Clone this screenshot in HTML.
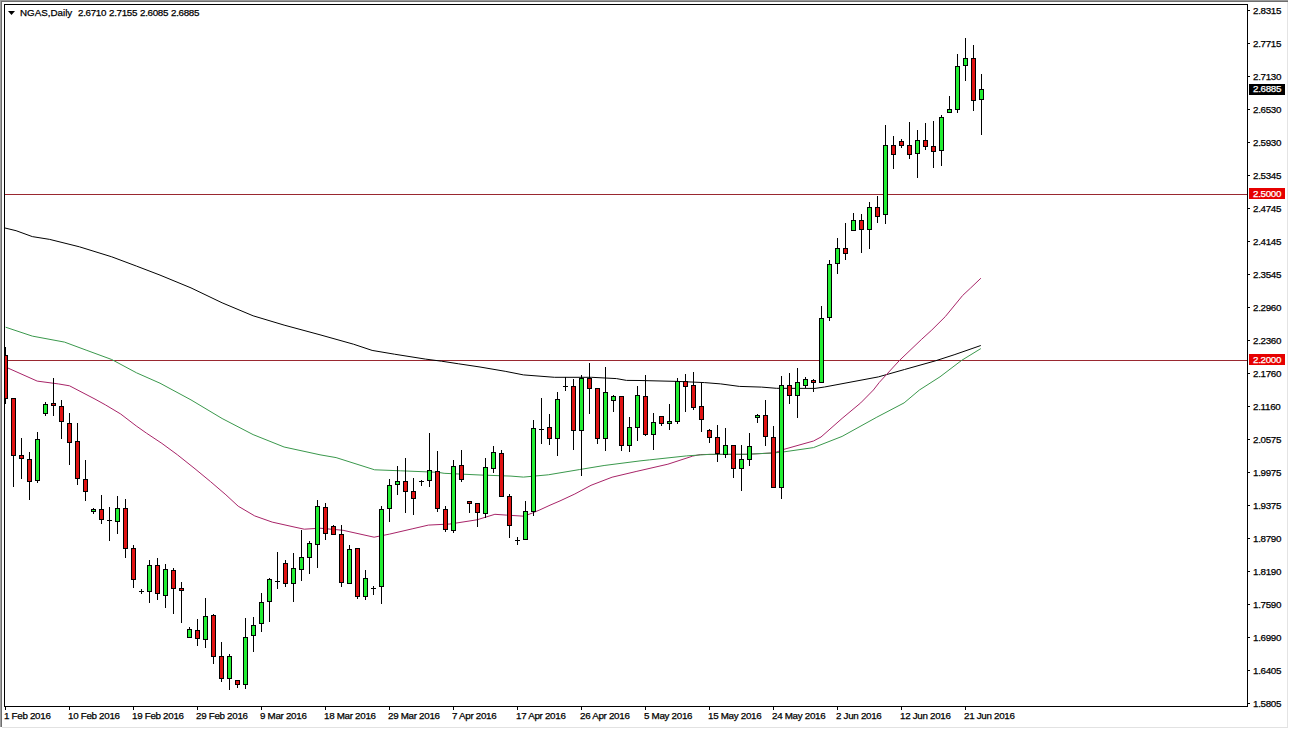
<!DOCTYPE html><html><head><meta charset="utf-8"><style>
html,body{margin:0;padding:0;background:#fff;width:1289px;height:729px;overflow:hidden;position:relative}
.t{position:absolute;font-family:"Liberation Sans",sans-serif;font-size:9.8px;line-height:10px;letter-spacing:-0.3px;-webkit-text-stroke:0.25px #000;color:#000;white-space:pre}
.w{color:#fff;-webkit-text-stroke:0.25px #fff}
</style></head><body>
<svg width="1289" height="729" viewBox="0 0 1289 729" style="position:absolute;left:0;top:0"><defs><clipPath id="ca"><rect x="5" y="5" width="1242" height="701"/></clipPath></defs><g shape-rendering="crispEdges"><rect x="0" y="0" width="1288" height="1" fill="#9a9a9a"/><rect x="0" y="1" width="1288" height="1" fill="#6e6e6e"/><rect x="0" y="0" width="1" height="727" fill="#a0a0a0"/><rect x="1" y="1" width="1" height="726" fill="#6e6e6e"/><rect x="1287" y="2" width="1" height="725" fill="#e4e4e4"/><rect x="2" y="727" width="1286" height="1" fill="#e2e2e2"/></g><g clip-path="url(#ca)"><g shape-rendering="crispEdges"><rect x="5" y="194" width="1242" height="1" fill="#9a2830"/><rect x="5" y="360" width="1242" height="1" fill="#9a2830"/></g><polyline points="5.0,228.0 16.1,230.7 32.3,236.6 49.7,239.4 79.4,246.8 111.7,256.8 136.5,266.1 160.0,275.1 191.0,287.9 222.1,302.8 253.1,315.8 284.1,325.1 320.0,334.8 353.5,344.2 372.1,350.4 394.5,354.2 425.5,359.1 441.6,361.2 458.6,363.8 480.0,367.0 505.2,371.3 523.4,374.9 554.5,377.3 591.7,377.3 616.5,378.6 626.5,380.4 640.0,380.5 677.2,381.4 704.5,382.6 720.7,383.9 739.3,386.4 761.6,387.1 776.5,388.3 815.0,388.4 824.5,387.0 840.0,384.1 878.4,376.9 904.5,369.5 935.5,360.8 954.1,354.8 980.8,345.5" fill="none" stroke="#000000" stroke-width="1"/><polyline points="5.0,367.0 7.4,367.8 37.2,381.1 58.3,383.9 69.5,385.8 95.0,399.1 105.3,404.8 120.7,414.0 136.2,425.9 146.4,433.1 161.9,443.4 177.3,454.7 195.0,468.8 210.4,481.5 225.9,494.8 238.2,506.2 254.7,515.9 272.2,522.1 295.0,527.2 304.3,529.2 319.8,528.2 343.1,530.3 374.1,537.2 389.6,534.1 412.9,528.7 428.4,525.1 450.0,524.0 477.0,519.8 494.9,514.3 506.3,515.1 523.9,516.2 532.7,512.9 540.0,509.8 550.0,505.2 560.0,500.9 574.8,494.0 591.0,485.3 612.1,477.2 636.9,471.3 667.9,464.2 692.7,456.1 700.4,454.5 746.0,454.3 774.3,452.9 783.7,449.4 813.5,441.0 821.0,437.0 842.1,418.4 860.7,402.9 873.4,390.0 879.3,382.4 899.5,360.4 921.3,339.6 931.8,330.0 945.3,316.6 962.6,295.5 970.3,288.3 980.9,278.2" fill="none" stroke="#a82468" stroke-width="1"/><polyline points="5.6,327.2 32.3,336.1 64.5,342.1 86.9,350.4 111.7,359.5 136.5,372.8 160.0,383.2 191.0,399.9 222.1,418.5 253.1,434.6 284.1,447.0 320.0,454.8 336.1,457.6 374.6,469.8 400.7,470.8 437.9,472.3 444.1,473.3 480.0,475.0 511.0,476.1 523.4,477.1 548.3,474.8 579.3,469.6 604.1,465.5 640.0,460.9 649.3,459.9 686.5,455.9 710.0,454.3 746.0,454.3 774.3,452.9 783.7,451.9 813.5,447.6 842.1,436.4 876.8,417.2 904.1,402.9 919.4,390.0 940.0,376.8 961.6,360.4 980.8,348.6" fill="none" stroke="#3a984c" stroke-width="1"/><g shape-rendering="crispEdges" fill="#000"><rect x="5" y="347" width="1" height="57"/><rect x="13" y="398" width="1" height="89"/><rect x="21" y="438" width="1" height="41"/><rect x="29" y="452" width="1" height="48"/><rect x="37" y="432" width="1" height="51"/><rect x="45" y="402" width="1" height="14"/><rect x="53" y="378" width="1" height="38"/><rect x="61" y="400" width="1" height="39"/><rect x="69" y="413" width="1" height="52"/><rect x="77" y="423" width="1" height="62"/><rect x="85" y="460" width="1" height="41"/><rect x="93" y="508" width="1" height="6"/><rect x="101" y="495" width="1" height="29"/><rect x="109" y="507" width="1" height="34"/><rect x="117" y="496" width="1" height="38"/><rect x="125" y="499" width="1" height="59"/><rect x="133" y="545" width="1" height="43"/><rect x="141" y="589" width="1" height="5"/><rect x="149" y="560" width="1" height="43"/><rect x="157" y="558" width="1" height="42"/><rect x="165" y="564" width="1" height="44"/><rect x="173" y="568" width="1" height="46"/><rect x="181" y="582" width="1" height="41"/><rect x="189" y="627" width="1" height="11"/><rect x="197" y="619" width="1" height="27"/><rect x="205" y="598" width="1" height="50"/><rect x="213" y="614" width="1" height="50"/><rect x="221" y="642" width="1" height="40"/><rect x="229" y="654" width="1" height="36"/><rect x="237" y="680" width="1" height="8"/><rect x="245" y="618" width="1" height="71"/><rect x="253" y="617" width="1" height="35"/><rect x="261" y="593" width="1" height="39"/><rect x="269" y="578" width="1" height="44"/><rect x="277" y="552" width="1" height="37"/><rect x="285" y="560" width="1" height="27"/><rect x="293" y="553" width="1" height="49"/><rect x="301" y="530" width="1" height="51"/><rect x="309" y="541" width="1" height="33"/><rect x="317" y="500" width="1" height="68"/><rect x="325" y="503" width="1" height="37"/><rect x="333" y="525" width="1" height="10"/><rect x="341" y="525" width="1" height="62"/><rect x="349" y="545" width="1" height="39"/><rect x="357" y="548" width="1" height="51"/><rect x="365" y="570" width="1" height="30"/><rect x="373" y="586" width="1" height="9"/><rect x="381" y="506" width="1" height="98"/><rect x="389" y="479" width="1" height="43"/><rect x="397" y="466" width="1" height="29"/><rect x="405" y="458" width="1" height="55"/><rect x="413" y="478" width="1" height="37"/><rect x="421" y="480" width="1" height="6"/><rect x="429" y="433" width="1" height="54"/><rect x="437" y="451" width="1" height="61"/><rect x="445" y="506" width="1" height="26"/><rect x="453" y="460" width="1" height="73"/><rect x="461" y="450" width="1" height="32"/><rect x="469" y="502" width="1" height="11"/><rect x="477" y="503" width="1" height="24"/><rect x="485" y="458" width="1" height="60"/><rect x="493" y="446" width="1" height="27"/><rect x="501" y="450" width="1" height="47"/><rect x="509" y="494" width="1" height="44"/><rect x="517" y="537" width="1" height="8"/><rect x="525" y="501" width="1" height="39"/><rect x="533" y="420" width="1" height="96"/><rect x="541" y="398" width="1" height="46"/><rect x="549" y="414" width="1" height="31"/><rect x="557" y="392" width="1" height="64"/><rect x="565" y="377" width="1" height="14"/><rect x="573" y="379" width="1" height="71"/><rect x="581" y="375" width="1" height="101"/><rect x="589" y="363" width="1" height="51"/><rect x="597" y="388" width="1" height="56"/><rect x="605" y="367" width="1" height="84"/><rect x="613" y="395" width="1" height="17"/><rect x="621" y="396" width="1" height="55"/><rect x="629" y="417" width="1" height="35"/><rect x="637" y="386" width="1" height="55"/><rect x="645" y="375" width="1" height="61"/><rect x="653" y="413" width="1" height="37"/><rect x="661" y="416" width="1" height="10"/><rect x="669" y="404" width="1" height="26"/><rect x="677" y="378" width="1" height="46"/><rect x="685" y="374" width="1" height="38"/><rect x="693" y="372" width="1" height="38"/><rect x="701" y="383" width="1" height="49"/><rect x="709" y="429" width="1" height="14"/><rect x="717" y="425" width="1" height="37"/><rect x="725" y="428" width="1" height="30"/><rect x="733" y="445" width="1" height="33"/><rect x="741" y="445" width="1" height="46"/><rect x="749" y="433" width="1" height="33"/><rect x="757" y="414" width="1" height="9"/><rect x="765" y="400" width="1" height="46"/><rect x="773" y="426" width="1" height="62"/><rect x="781" y="376" width="1" height="123"/><rect x="789" y="373" width="1" height="31"/><rect x="797" y="368" width="1" height="50"/><rect x="805" y="377" width="1" height="11"/><rect x="813" y="379" width="1" height="13"/><rect x="821" y="306" width="1" height="77"/><rect x="829" y="260" width="1" height="61"/><rect x="837" y="238" width="1" height="36"/><rect x="845" y="223" width="1" height="37"/><rect x="853" y="213" width="1" height="18"/><rect x="861" y="214" width="1" height="39"/><rect x="869" y="202" width="1" height="47"/><rect x="877" y="196" width="1" height="27"/><rect x="885" y="125" width="1" height="99"/><rect x="893" y="136" width="1" height="33"/><rect x="901" y="139" width="1" height="9"/><rect x="909" y="122" width="1" height="37"/><rect x="917" y="130" width="1" height="48"/><rect x="925" y="123" width="1" height="27"/><rect x="933" y="121" width="1" height="47"/><rect x="941" y="115" width="1" height="51"/><rect x="949" y="96" width="1" height="17"/><rect x="957" y="54" width="1" height="59"/><rect x="965" y="38" width="1" height="43"/><rect x="973" y="45" width="1" height="66"/><rect x="981" y="74" width="1" height="61"/><rect x="3" y="355" width="5" height="44" fill="#000"/><rect x="4" y="356" width="3" height="42" fill="#e01212"/><rect x="11" y="398" width="5" height="58" fill="#000"/><rect x="12" y="399" width="3" height="56" fill="#e01212"/><rect x="19" y="455" width="5" height="4" fill="#000"/><rect x="20" y="456" width="3" height="2" fill="#e01212"/><rect x="27" y="459" width="5" height="23" fill="#000"/><rect x="28" y="460" width="3" height="21" fill="#e01212"/><rect x="35" y="439" width="5" height="42" fill="#000"/><rect x="36" y="440" width="3" height="40" fill="#22ee33"/><rect x="43" y="404" width="5" height="10" fill="#000"/><rect x="44" y="405" width="3" height="8" fill="#22ee33"/><rect x="51" y="403" width="5" height="3" fill="#000"/><rect x="52" y="404" width="3" height="1" fill="#e01212"/><rect x="59" y="406" width="5" height="16" fill="#000"/><rect x="60" y="407" width="3" height="14" fill="#e01212"/><rect x="67" y="423" width="5" height="20" fill="#000"/><rect x="68" y="424" width="3" height="18" fill="#e01212"/><rect x="75" y="441" width="5" height="38" fill="#000"/><rect x="76" y="442" width="3" height="36" fill="#e01212"/><rect x="83" y="479" width="5" height="13" fill="#000"/><rect x="84" y="480" width="3" height="11" fill="#e01212"/><rect x="91" y="509" width="5" height="3" fill="#000"/><rect x="92" y="510" width="3" height="1" fill="#22ee33"/><rect x="99" y="509" width="5" height="11" fill="#000"/><rect x="100" y="510" width="3" height="9" fill="#e01212"/><rect x="107" y="520" width="5" height="1" fill="#000"/><rect x="115" y="508" width="5" height="14" fill="#000"/><rect x="116" y="509" width="3" height="12" fill="#22ee33"/><rect x="123" y="508" width="5" height="41" fill="#000"/><rect x="124" y="509" width="3" height="39" fill="#e01212"/><rect x="131" y="548" width="5" height="32" fill="#000"/><rect x="132" y="549" width="3" height="30" fill="#e01212"/><rect x="139" y="591" width="5" height="1" fill="#000"/><rect x="147" y="565" width="5" height="27" fill="#000"/><rect x="148" y="566" width="3" height="25" fill="#22ee33"/><rect x="155" y="565" width="5" height="29" fill="#000"/><rect x="156" y="566" width="3" height="27" fill="#e01212"/><rect x="163" y="569" width="5" height="27" fill="#000"/><rect x="164" y="570" width="3" height="25" fill="#22ee33"/><rect x="171" y="570" width="5" height="19" fill="#000"/><rect x="172" y="571" width="3" height="17" fill="#e01212"/><rect x="179" y="588" width="5" height="3" fill="#000"/><rect x="180" y="589" width="3" height="1" fill="#e01212"/><rect x="187" y="629" width="5" height="9" fill="#000"/><rect x="188" y="630" width="3" height="7" fill="#22ee33"/><rect x="195" y="630" width="5" height="9" fill="#000"/><rect x="196" y="631" width="3" height="7" fill="#e01212"/><rect x="203" y="616" width="5" height="24" fill="#000"/><rect x="204" y="617" width="3" height="22" fill="#22ee33"/><rect x="211" y="615" width="5" height="42" fill="#000"/><rect x="212" y="616" width="3" height="40" fill="#e01212"/><rect x="219" y="656" width="5" height="23" fill="#000"/><rect x="220" y="657" width="3" height="21" fill="#e01212"/><rect x="227" y="656" width="5" height="23" fill="#000"/><rect x="228" y="657" width="3" height="21" fill="#22ee33"/><rect x="235" y="680" width="5" height="5" fill="#000"/><rect x="236" y="681" width="3" height="3" fill="#e01212"/><rect x="243" y="637" width="5" height="48" fill="#000"/><rect x="244" y="638" width="3" height="46" fill="#22ee33"/><rect x="251" y="625" width="5" height="11" fill="#000"/><rect x="252" y="626" width="3" height="9" fill="#22ee33"/><rect x="259" y="602" width="5" height="22" fill="#000"/><rect x="260" y="603" width="3" height="20" fill="#22ee33"/><rect x="267" y="579" width="5" height="23" fill="#000"/><rect x="268" y="580" width="3" height="21" fill="#22ee33"/><rect x="275" y="581" width="5" height="1" fill="#000"/><rect x="283" y="563" width="5" height="21" fill="#000"/><rect x="284" y="564" width="3" height="19" fill="#e01212"/><rect x="291" y="568" width="5" height="16" fill="#000"/><rect x="292" y="569" width="3" height="14" fill="#22ee33"/><rect x="299" y="557" width="5" height="13" fill="#000"/><rect x="300" y="558" width="3" height="11" fill="#22ee33"/><rect x="307" y="543" width="5" height="15" fill="#000"/><rect x="308" y="544" width="3" height="13" fill="#22ee33"/><rect x="315" y="506" width="5" height="39" fill="#000"/><rect x="316" y="507" width="3" height="37" fill="#22ee33"/><rect x="323" y="507" width="5" height="27" fill="#000"/><rect x="324" y="508" width="3" height="25" fill="#e01212"/><rect x="331" y="526" width="5" height="9" fill="#000"/><rect x="332" y="527" width="3" height="7" fill="#e01212"/><rect x="339" y="534" width="5" height="49" fill="#000"/><rect x="340" y="535" width="3" height="47" fill="#e01212"/><rect x="347" y="549" width="5" height="35" fill="#000"/><rect x="348" y="550" width="3" height="33" fill="#22ee33"/><rect x="355" y="548" width="5" height="49" fill="#000"/><rect x="356" y="549" width="3" height="47" fill="#e01212"/><rect x="363" y="578" width="5" height="19" fill="#000"/><rect x="364" y="579" width="3" height="17" fill="#22ee33"/><rect x="371" y="588" width="5" height="1" fill="#000"/><rect x="379" y="509" width="5" height="78" fill="#000"/><rect x="380" y="510" width="3" height="76" fill="#22ee33"/><rect x="387" y="485" width="5" height="24" fill="#000"/><rect x="388" y="486" width="3" height="22" fill="#22ee33"/><rect x="395" y="481" width="5" height="4" fill="#000"/><rect x="396" y="482" width="3" height="2" fill="#22ee33"/><rect x="403" y="481" width="5" height="11" fill="#000"/><rect x="404" y="482" width="3" height="9" fill="#e01212"/><rect x="411" y="491" width="5" height="8" fill="#000"/><rect x="412" y="492" width="3" height="6" fill="#e01212"/><rect x="419" y="481" width="5" height="1" fill="#000"/><rect x="427" y="470" width="5" height="11" fill="#000"/><rect x="428" y="471" width="3" height="9" fill="#22ee33"/><rect x="435" y="471" width="5" height="38" fill="#000"/><rect x="436" y="472" width="3" height="36" fill="#e01212"/><rect x="443" y="509" width="5" height="21" fill="#000"/><rect x="444" y="510" width="3" height="19" fill="#e01212"/><rect x="451" y="466" width="5" height="65" fill="#000"/><rect x="452" y="467" width="3" height="63" fill="#22ee33"/><rect x="459" y="465" width="5" height="15" fill="#000"/><rect x="460" y="466" width="3" height="13" fill="#e01212"/><rect x="467" y="501" width="5" height="3" fill="#000"/><rect x="468" y="502" width="3" height="1" fill="#e01212"/><rect x="475" y="503" width="5" height="10" fill="#000"/><rect x="476" y="504" width="3" height="8" fill="#e01212"/><rect x="483" y="467" width="5" height="47" fill="#000"/><rect x="484" y="468" width="3" height="45" fill="#22ee33"/><rect x="491" y="452" width="5" height="17" fill="#000"/><rect x="492" y="453" width="3" height="15" fill="#22ee33"/><rect x="499" y="453" width="5" height="44" fill="#000"/><rect x="500" y="454" width="3" height="42" fill="#e01212"/><rect x="507" y="496" width="5" height="30" fill="#000"/><rect x="508" y="497" width="3" height="28" fill="#e01212"/><rect x="515" y="540" width="5" height="1" fill="#000"/><rect x="523" y="511" width="5" height="29" fill="#000"/><rect x="524" y="512" width="3" height="27" fill="#22ee33"/><rect x="531" y="428" width="5" height="84" fill="#000"/><rect x="532" y="429" width="3" height="82" fill="#22ee33"/><rect x="539" y="429" width="5" height="1" fill="#000"/><rect x="547" y="427" width="5" height="12" fill="#000"/><rect x="548" y="428" width="3" height="10" fill="#e01212"/><rect x="555" y="399" width="5" height="40" fill="#000"/><rect x="556" y="400" width="3" height="38" fill="#22ee33"/><rect x="563" y="386" width="5" height="1" fill="#000"/><rect x="571" y="386" width="5" height="45" fill="#000"/><rect x="572" y="387" width="3" height="43" fill="#e01212"/><rect x="579" y="378" width="5" height="53" fill="#000"/><rect x="580" y="379" width="3" height="51" fill="#22ee33"/><rect x="587" y="378" width="5" height="11" fill="#000"/><rect x="588" y="379" width="3" height="9" fill="#e01212"/><rect x="595" y="388" width="5" height="51" fill="#000"/><rect x="596" y="389" width="3" height="49" fill="#e01212"/><rect x="603" y="392" width="5" height="47" fill="#000"/><rect x="604" y="393" width="3" height="45" fill="#22ee33"/><rect x="611" y="396" width="5" height="5" fill="#000"/><rect x="612" y="397" width="3" height="3" fill="#22ee33"/><rect x="619" y="396" width="5" height="50" fill="#000"/><rect x="620" y="397" width="3" height="48" fill="#e01212"/><rect x="627" y="427" width="5" height="19" fill="#000"/><rect x="628" y="428" width="3" height="17" fill="#22ee33"/><rect x="635" y="395" width="5" height="33" fill="#000"/><rect x="636" y="396" width="3" height="31" fill="#22ee33"/><rect x="643" y="396" width="5" height="39" fill="#000"/><rect x="644" y="397" width="3" height="37" fill="#e01212"/><rect x="651" y="422" width="5" height="13" fill="#000"/><rect x="652" y="423" width="3" height="11" fill="#22ee33"/><rect x="659" y="416" width="5" height="8" fill="#000"/><rect x="660" y="417" width="3" height="6" fill="#e01212"/><rect x="667" y="421" width="5" height="3" fill="#000"/><rect x="668" y="422" width="3" height="1" fill="#22ee33"/><rect x="675" y="381" width="5" height="41" fill="#000"/><rect x="676" y="382" width="3" height="39" fill="#22ee33"/><rect x="683" y="381" width="5" height="6" fill="#000"/><rect x="684" y="382" width="3" height="4" fill="#e01212"/><rect x="691" y="385" width="5" height="23" fill="#000"/><rect x="692" y="386" width="3" height="21" fill="#e01212"/><rect x="699" y="406" width="5" height="14" fill="#000"/><rect x="700" y="407" width="3" height="12" fill="#e01212"/><rect x="707" y="430" width="5" height="8" fill="#000"/><rect x="708" y="431" width="3" height="6" fill="#e01212"/><rect x="715" y="437" width="5" height="17" fill="#000"/><rect x="716" y="438" width="3" height="15" fill="#e01212"/><rect x="723" y="445" width="5" height="10" fill="#000"/><rect x="724" y="446" width="3" height="8" fill="#22ee33"/><rect x="731" y="445" width="5" height="24" fill="#000"/><rect x="732" y="446" width="3" height="22" fill="#e01212"/><rect x="739" y="459" width="5" height="10" fill="#000"/><rect x="740" y="460" width="3" height="8" fill="#22ee33"/><rect x="747" y="446" width="5" height="14" fill="#000"/><rect x="748" y="447" width="3" height="12" fill="#22ee33"/><rect x="755" y="415" width="5" height="3" fill="#000"/><rect x="756" y="416" width="3" height="1" fill="#22ee33"/><rect x="763" y="415" width="5" height="22" fill="#000"/><rect x="764" y="416" width="3" height="20" fill="#e01212"/><rect x="771" y="437" width="5" height="51" fill="#000"/><rect x="772" y="438" width="3" height="49" fill="#e01212"/><rect x="779" y="385" width="5" height="103" fill="#000"/><rect x="780" y="386" width="3" height="101" fill="#22ee33"/><rect x="787" y="385" width="5" height="11" fill="#000"/><rect x="788" y="386" width="3" height="9" fill="#e01212"/><rect x="795" y="382" width="5" height="14" fill="#000"/><rect x="796" y="383" width="3" height="12" fill="#22ee33"/><rect x="803" y="379" width="5" height="7" fill="#000"/><rect x="804" y="380" width="3" height="5" fill="#22ee33"/><rect x="811" y="380" width="5" height="3" fill="#000"/><rect x="812" y="381" width="3" height="1" fill="#e01212"/><rect x="819" y="318" width="5" height="65" fill="#000"/><rect x="820" y="319" width="3" height="63" fill="#22ee33"/><rect x="827" y="264" width="5" height="54" fill="#000"/><rect x="828" y="265" width="3" height="52" fill="#22ee33"/><rect x="835" y="248" width="5" height="16" fill="#000"/><rect x="836" y="249" width="3" height="14" fill="#22ee33"/><rect x="843" y="248" width="5" height="6" fill="#000"/><rect x="844" y="249" width="3" height="4" fill="#e01212"/><rect x="851" y="220" width="5" height="11" fill="#000"/><rect x="852" y="221" width="3" height="9" fill="#22ee33"/><rect x="859" y="220" width="5" height="10" fill="#000"/><rect x="860" y="221" width="3" height="8" fill="#e01212"/><rect x="867" y="207" width="5" height="23" fill="#000"/><rect x="868" y="208" width="3" height="21" fill="#22ee33"/><rect x="875" y="207" width="5" height="10" fill="#000"/><rect x="876" y="208" width="3" height="8" fill="#e01212"/><rect x="883" y="145" width="5" height="70" fill="#000"/><rect x="884" y="146" width="3" height="68" fill="#22ee33"/><rect x="891" y="145" width="5" height="10" fill="#000"/><rect x="892" y="146" width="3" height="8" fill="#e01212"/><rect x="899" y="141" width="5" height="5" fill="#000"/><rect x="900" y="142" width="3" height="3" fill="#e01212"/><rect x="907" y="145" width="5" height="10" fill="#000"/><rect x="908" y="146" width="3" height="8" fill="#e01212"/><rect x="915" y="140" width="5" height="14" fill="#000"/><rect x="916" y="141" width="3" height="12" fill="#22ee33"/><rect x="923" y="140" width="5" height="7" fill="#000"/><rect x="924" y="141" width="3" height="5" fill="#e01212"/><rect x="931" y="146" width="5" height="6" fill="#000"/><rect x="932" y="147" width="3" height="4" fill="#e01212"/><rect x="939" y="117" width="5" height="34" fill="#000"/><rect x="940" y="118" width="3" height="32" fill="#22ee33"/><rect x="947" y="109" width="5" height="4" fill="#000"/><rect x="948" y="110" width="3" height="2" fill="#22ee33"/><rect x="955" y="66" width="5" height="44" fill="#000"/><rect x="956" y="67" width="3" height="42" fill="#22ee33"/><rect x="963" y="58" width="5" height="8" fill="#000"/><rect x="964" y="59" width="3" height="6" fill="#22ee33"/><rect x="971" y="58" width="5" height="43" fill="#000"/><rect x="972" y="59" width="3" height="41" fill="#e01212"/><rect x="979" y="89" width="5" height="11" fill="#000"/><rect x="980" y="90" width="3" height="9" fill="#22ee33"/></g></g><g shape-rendering="crispEdges" fill="#000"><rect x="4" y="4" width="1244" height="1"/><rect x="4" y="706" width="1244" height="1"/><rect x="4" y="4" width="1" height="703"/><rect x="1247" y="4" width="1" height="703"/><rect x="1248" y="10" width="2" height="1"/><rect x="1248" y="43" width="2" height="1"/><rect x="1248" y="76" width="2" height="1"/><rect x="1248" y="109" width="2" height="1"/><rect x="1248" y="142" width="2" height="1"/><rect x="1248" y="175" width="2" height="1"/><rect x="1248" y="208" width="2" height="1"/><rect x="1248" y="241" width="2" height="1"/><rect x="1248" y="274" width="2" height="1"/><rect x="1248" y="307" width="2" height="1"/><rect x="1248" y="340" width="2" height="1"/><rect x="1248" y="373" width="2" height="1"/><rect x="1248" y="406" width="2" height="1"/><rect x="1248" y="439" width="2" height="1"/><rect x="1248" y="472" width="2" height="1"/><rect x="1248" y="505" width="2" height="1"/><rect x="1248" y="538" width="2" height="1"/><rect x="1248" y="571" width="2" height="1"/><rect x="1248" y="604" width="2" height="1"/><rect x="1248" y="637" width="2" height="1"/><rect x="1248" y="670" width="2" height="1"/><rect x="1248" y="703" width="2" height="1"/><rect x="5" y="707" width="1" height="3"/><rect x="69" y="707" width="1" height="3"/><rect x="133" y="707" width="1" height="3"/><rect x="197" y="707" width="1" height="3"/><rect x="261" y="707" width="1" height="3"/><rect x="325" y="707" width="1" height="3"/><rect x="389" y="707" width="1" height="3"/><rect x="453" y="707" width="1" height="3"/><rect x="517" y="707" width="1" height="3"/><rect x="581" y="707" width="1" height="3"/><rect x="645" y="707" width="1" height="3"/><rect x="709" y="707" width="1" height="3"/><rect x="773" y="707" width="1" height="3"/><rect x="837" y="707" width="1" height="3"/><rect x="901" y="707" width="1" height="3"/><rect x="965" y="707" width="1" height="3"/></g><polygon points="8,11 15,11 11.5,15" fill="#000"/><g shape-rendering="crispEdges"><rect x="1249" y="188" width="36" height="11" fill="#e60000"/><rect x="1249" y="354" width="36" height="11" fill="#e60000"/><rect x="1249" y="84" width="36" height="11" fill="#000"/></g></svg>
<div class="t" style="left:20px;top:8px;letter-spacing:0px">NGAS,Daily</div>
<div class="t" style="left:78px;top:8px">2.6710</div>
<div class="t" style="left:109px;top:8px">2.7155</div>
<div class="t" style="left:140px;top:8px">2.6085</div>
<div class="t" style="left:171px;top:8px">2.6885</div>
<div class="t" style="left:1253px;top:6px">2.8315</div>
<div class="t" style="left:1253px;top:39px">2.7715</div>
<div class="t" style="left:1253px;top:72px">2.7130</div>
<div class="t" style="left:1253px;top:105px">2.6530</div>
<div class="t" style="left:1253px;top:138px">2.5930</div>
<div class="t" style="left:1253px;top:171px">2.5345</div>
<div class="t" style="left:1253px;top:204px">2.4745</div>
<div class="t" style="left:1253px;top:237px">2.4145</div>
<div class="t" style="left:1253px;top:270px">2.3545</div>
<div class="t" style="left:1253px;top:303px">2.2960</div>
<div class="t" style="left:1253px;top:336px">2.2360</div>
<div class="t" style="left:1253px;top:369px">2.1760</div>
<div class="t" style="left:1253px;top:402px">2.1160</div>
<div class="t" style="left:1253px;top:435px">2.0575</div>
<div class="t" style="left:1253px;top:468px">1.9975</div>
<div class="t" style="left:1253px;top:501px">1.9375</div>
<div class="t" style="left:1253px;top:534px">1.8790</div>
<div class="t" style="left:1253px;top:567px">1.8190</div>
<div class="t" style="left:1253px;top:600px">1.7590</div>
<div class="t" style="left:1253px;top:633px">1.6990</div>
<div class="t" style="left:1253px;top:666px">1.6405</div>
<div class="t" style="left:1253px;top:699px">1.5805</div>
<div class="t w" style="left:1253px;top:189px">2.5000</div>
<div class="t w" style="left:1253px;top:355px">2.2000</div>
<div class="t w" style="left:1253px;top:84px">2.6885</div>
<div class="t" style="left:4px;top:711px">1 Feb 2016</div>
<div class="t" style="left:68px;top:711px">10 Feb 2016</div>
<div class="t" style="left:132px;top:711px">19 Feb 2016</div>
<div class="t" style="left:196px;top:711px">29 Feb 2016</div>
<div class="t" style="left:260px;top:711px">9 Mar 2016</div>
<div class="t" style="left:324px;top:711px">18 Mar 2016</div>
<div class="t" style="left:388px;top:711px">29 Mar 2016</div>
<div class="t" style="left:452px;top:711px">7 Apr 2016</div>
<div class="t" style="left:516px;top:711px">17 Apr 2016</div>
<div class="t" style="left:580px;top:711px">26 Apr 2016</div>
<div class="t" style="left:644px;top:711px">5 May 2016</div>
<div class="t" style="left:708px;top:711px">15 May 2016</div>
<div class="t" style="left:772px;top:711px">24 May 2016</div>
<div class="t" style="left:836px;top:711px">2 Jun 2016</div>
<div class="t" style="left:900px;top:711px">12 Jun 2016</div>
<div class="t" style="left:964px;top:711px">21 Jun 2016</div>
</body></html>
